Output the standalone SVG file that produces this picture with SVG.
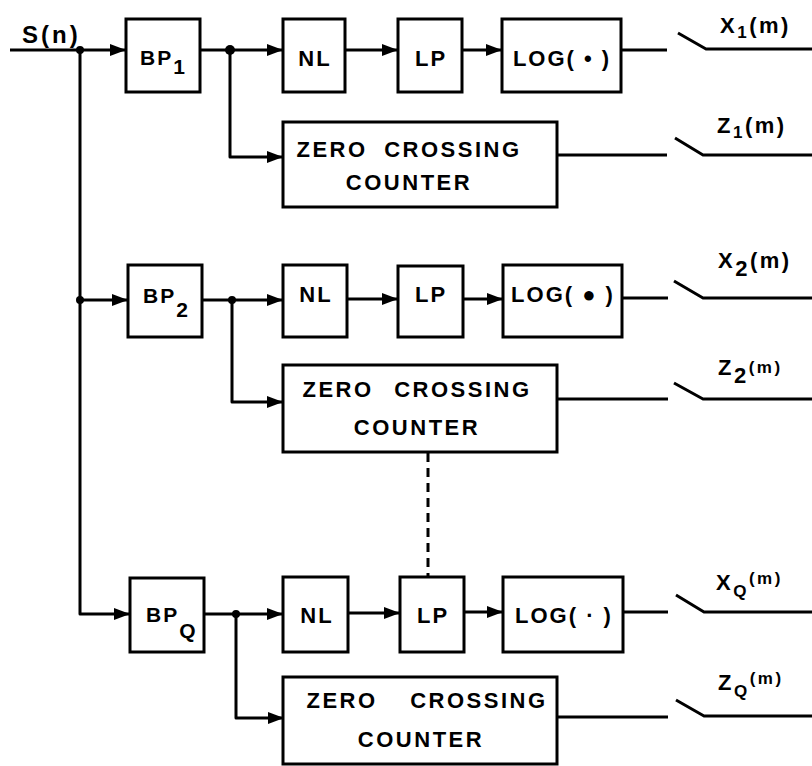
<svg xmlns="http://www.w3.org/2000/svg" width="812" height="766" viewBox="0 0 812 766">
<defs>
<marker id="arr" markerUnits="userSpaceOnUse" markerWidth="18" markerHeight="14" refX="16" refY="7" orient="auto">
<path d="M0,1 L16,7 L0,13 Z" fill="#000"/>
</marker>
<style>
.box{fill:#fff;stroke:#000;stroke-width:3}
.ln{fill:none;stroke:#000;stroke-width:3;stroke-linejoin:round}
.dash{fill:none;stroke:#000;stroke-width:3;stroke-dasharray:9 6}
.t{font-family:"Liberation Sans",Arial,sans-serif;font-weight:bold;font-size:22px;fill:#000;letter-spacing:2px}
.zc{font-family:"Liberation Sans",Arial,sans-serif;font-weight:bold;font-size:22px;fill:#000;text-anchor:middle;letter-spacing:2.5px;word-spacing:8px}
.c{text-anchor:middle}
.lbl{font-family:"Liberation Sans",Arial,sans-serif;font-weight:bold;font-size:22px;fill:#000;letter-spacing:2.5px}
.sub{font-size:17px}
</style>
</defs>

<g id="connectors">
<path class="ln" d="M10,50 H126" marker-end="url(#arr)"/>
<path class="ln" d="M80,50 V614 H130" marker-end="url(#arr)"/>
<path class="ln" d="M80,300 H128" marker-end="url(#arr)"/>
<circle cx="80" cy="50" r="4"/>
<circle cx="80" cy="300" r="4"/>

<path class="ln" d="M200,50 H283" marker-end="url(#arr)"/>
<path class="ln" d="M230,50 V157 H283" marker-end="url(#arr)"/>
<circle cx="230" cy="50" r="5"/>
<path class="ln" d="M345,50 H398" marker-end="url(#arr)"/>
<path class="ln" d="M462,50 H502" marker-end="url(#arr)"/>
<path class="ln" d="M621,50 H667"/>
<path class="ln" d="M678,33 L706,49 H812"/>
<path class="ln" d="M557,155 H667"/>
<path class="ln" d="M675,138 L703,155 H812"/>

<path class="ln" d="M202,300 H283" marker-end="url(#arr)"/>
<path class="ln" d="M232,300 V402 H283" marker-end="url(#arr)"/>
<circle cx="232" cy="300" r="4"/>
<path class="ln" d="M347,299 H398" marker-end="url(#arr)"/>
<path class="ln" d="M463,299 H503" marker-end="url(#arr)"/>
<path class="ln" d="M622,298 H668"/>
<path class="ln" d="M674,281 L703,298 H812"/>
<path class="ln" d="M557,399 H668"/>
<path class="ln" d="M674,383 L703,399 H812"/>

<path class="ln" d="M204,614 H283" marker-end="url(#arr)"/>
<path class="ln" d="M236,614 V718 H284" marker-end="url(#arr)"/>
<circle cx="236" cy="614" r="4"/>
<path class="ln" d="M348,613 H400" marker-end="url(#arr)"/>
<path class="ln" d="M464,612 H503" marker-end="url(#arr)"/>
<path class="ln" d="M623,612 H668"/>
<path class="ln" d="M676,595 L704,612 H812"/>
<path class="ln" d="M557,717 H668"/>
<path class="ln" d="M676,700 L704,716 H812"/>

<path class="dash" d="M428,453 V577"/>
</g>

<g id="input-label"><text class="lbl" x="22" y="43" style="font-size:24px;letter-spacing:3px">S(n)</text></g>

<g id="bp1"><rect class="box" x="126" y="19" width="74" height="73"/><text class="t" x="140" y="65" style="font-size:21px">BP<tspan dy="9">1</tspan></text></g>
<g id="nl1"><rect class="box" x="283" y="19" width="62" height="73"/><text class="t c" x="315" y="66">NL</text></g>
<g id="lp1"><rect class="box" x="398" y="19" width="64" height="73"/><text class="t c" x="431" y="66">LP</text></g>
<g id="log1"><rect class="box" x="502" y="19" width="119" height="73"/><text class="t c" x="562" y="66">LOG( • )</text></g>
<g id="zc1"><rect class="box" x="283" y="122" width="274" height="85"/><text class="zc" x="409" y="157">ZERO CROSSING</text><text class="zc" x="409" y="190">COUNTER</text></g>
<g id="x1"><text class="lbl" x="720" y="33">X<tspan class="sub" dy="5">1</tspan><tspan dy="-5">(m)</tspan></text></g>
<g id="z1"><text class="lbl" x="717" y="133">Z<tspan class="sub" dy="5">1</tspan><tspan dy="-5">(m)</tspan></text></g>

<g id="bp2"><rect class="box" x="128" y="265" width="74" height="72"/><text class="t" x="143" y="303" style="font-size:21px">BP<tspan dy="14">2</tspan></text></g>
<g id="nl2"><rect class="box" x="283" y="265" width="64" height="72"/><text class="t c" x="316" y="302">NL</text></g>
<g id="lp2"><rect class="box" x="398" y="266" width="65" height="71"/><text class="t c" x="431" y="302">LP</text></g>
<g id="log2"><rect class="box" x="503" y="265" width="119" height="72"/><text class="t c" x="563" y="302">LOG( ● )</text></g>
<g id="zc2"><rect class="box" x="283" y="365" width="274" height="87"/><text class="zc" x="417" y="397" style="word-spacing:12px">ZERO CROSSING</text><text class="zc" x="417" y="435">COUNTER</text></g>
<g id="x2"><text class="lbl" x="718" y="268">X<tspan dy="8">2</tspan><tspan dy="-8">(m)</tspan></text></g>
<g id="z2"><text class="lbl" x="718" y="375">Z<tspan dy="8">2</tspan><tspan class="sub" dy="-10">(m)</tspan></text></g>

<g id="bpq"><rect class="box" x="130" y="578" width="74" height="74"/><text class="t" x="146" y="622" style="font-size:21px">BP<tspan dy="16">Q</tspan></text></g>
<g id="nlq"><rect class="box" x="283" y="577" width="65" height="75"/><text class="t c" x="317" y="623">NL</text></g>
<g id="lpq"><rect class="box" x="400" y="577" width="64" height="75"/><text class="t c" x="433" y="623">LP</text></g>
<g id="logq"><rect class="box" x="503" y="577" width="120" height="75"/><text class="t c" x="564" y="623">LOG( · )</text></g>
<g id="zcq"><rect class="box" x="283" y="677" width="274" height="87"/><text class="zc" x="427" y="708" style="word-spacing:24px">ZERO CROSSING</text><text class="zc" x="421" y="747">COUNTER</text></g>
<g id="xq"><text class="lbl" x="716" y="590">X<tspan class="sub" dy="7">Q</tspan><tspan class="sub" dy="-13">(m)</tspan></text></g>
<g id="zq"><text class="lbl" x="718" y="690">Z<tspan class="sub" dy="7">Q</tspan><tspan class="sub" dy="-13">(m)</tspan></text></g>
</svg>
